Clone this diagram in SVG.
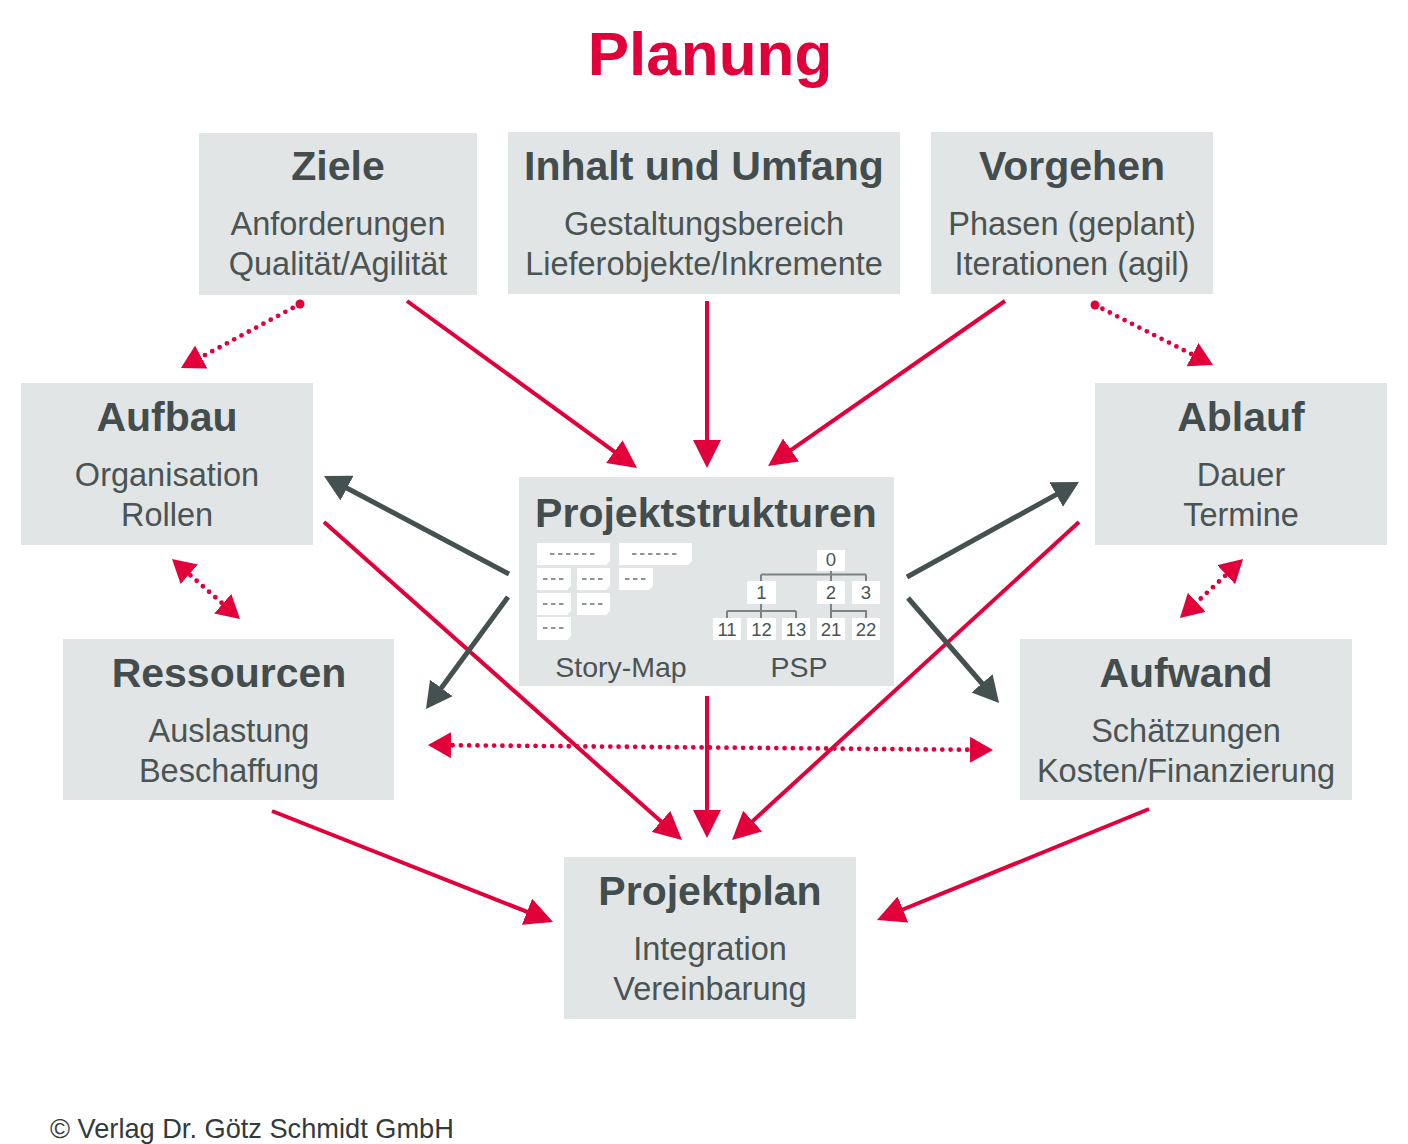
<svg xmlns="http://www.w3.org/2000/svg" width="1408" height="1144" viewBox="0 0 1408 1144">
<style>
.box{fill:#e2e5e5}
.t{font-family:"Liberation Sans",Arial,sans-serif;font-weight:bold;font-size:41px;fill:#434d4d;text-anchor:middle}
.s{font-family:"Liberation Sans",Arial,sans-serif;font-size:32.5px;fill:#4a5454;text-anchor:middle}
.lbl{font-family:"Liberation Sans",Arial,sans-serif;font-size:28.5px;fill:#4a5454;text-anchor:middle}
.num{font-family:"Liberation Sans",Arial,sans-serif;font-size:18.5px;fill:#4a5454;text-anchor:middle}
.card{fill:#ffffff}
.dash{stroke:#8e9393;stroke-width:2;stroke-dasharray:4.5 3.5}
.tree{stroke:#7b8484;stroke-width:2;fill:none}
.red{stroke:#e2003b;stroke-width:4;fill:none}
.dark{stroke:#455050;stroke-width:5;fill:none}
.dot{stroke:#e2003b;stroke-width:4.8;stroke-linecap:round;stroke-dasharray:0 8.3;fill:none}
</style>
<defs>
<marker id="rh" markerUnits="userSpaceOnUse" viewBox="0 0 28 28" refX="20" refY="14" markerWidth="28" markerHeight="28" orient="auto"><path d="M0,0 L28,14 L0,28 z" fill="#e2003b"/></marker>
<marker id="dh" markerUnits="userSpaceOnUse" viewBox="0 0 26 28" refX="18" refY="14" markerWidth="26" markerHeight="28" orient="auto"><path d="M0,0 L26,14 L0,28 z" fill="#455050"/></marker>
<marker id="ph" markerUnits="userSpaceOnUse" viewBox="0 0 23 26" refX="15" refY="13" markerWidth="23" markerHeight="26" orient="auto-start-reverse"><path d="M0,0 L23,13 L0,26 z" fill="#e2003b"/></marker>
</defs>
<rect width="1408" height="1144" fill="#ffffff"/>
<text x="710" y="75" style="font-family:'Liberation Sans',Arial,sans-serif;font-weight:bold;font-size:62px;fill:#e2003b;text-anchor:middle">Planung</text>

<g id="ziele"><rect class="box" x="199" y="133" width="278" height="162"/><text class="t" x="338" y="180">Ziele</text><text class="s" x="338" y="235">Anforderungen</text><text class="s" x="338" y="275">Qualität/Agilität</text></g>
<g id="inhalt"><rect class="box" x="508" y="132" width="392" height="162"/><text class="t" x="704" y="180">Inhalt und Umfang</text><text class="s" x="704" y="235">Gestaltungsbereich</text><text class="s" x="704" y="275">Lieferobjekte/Inkremente</text></g>
<g id="vorgehen"><rect class="box" x="931" y="132" width="282" height="162"/><text class="t" x="1072" y="180">Vorgehen</text><text class="s" x="1072" y="235">Phasen (geplant)</text><text class="s" x="1072" y="275">Iterationen (agil)</text></g>
<g id="aufbau"><rect class="box" x="21" y="383" width="292" height="162"/><text class="t" x="167" y="431">Aufbau</text><text class="s" x="167" y="486">Organisation</text><text class="s" x="167" y="526">Rollen</text></g>
<g id="ablauf"><rect class="box" x="1095" y="383" width="292" height="162"/><text class="t" x="1241" y="431">Ablauf</text><text class="s" x="1241" y="486">Dauer</text><text class="s" x="1241" y="526">Termine</text></g>
<g id="ressourcen"><rect class="box" x="63" y="639" width="331" height="161"/><text class="t" x="229" y="687">Ressourcen</text><text class="s" x="229" y="742">Auslastung</text><text class="s" x="229" y="782">Beschaffung</text></g>
<g id="aufwand"><rect class="box" x="1020" y="639" width="332" height="161"/><text class="t" x="1186" y="687">Aufwand</text><text class="s" x="1186" y="742">Schätzungen</text><text class="s" x="1186" y="782">Kosten/Finanzierung</text></g>
<g id="projektplan"><rect class="box" x="564" y="857" width="292" height="162"/><text class="t" x="710" y="905">Projektplan</text><text class="s" x="710" y="960">Integration</text><text class="s" x="710" y="1000">Vereinbarung</text></g>

<g id="projektstrukturen">
<rect class="box" x="519" y="477" width="375" height="209"/>
<text class="t" x="706" y="527">Projektstrukturen</text>
<g id="storymap">
<path class="card" d="M537,543 H610 V561 L606,565 H537 z"/>
<path class="card" d="M619,543 H692 V561 L688,565 H619 z"/>
<path class="card" d="M537,568 H571 V586 L567,590 H537 z"/>
<path class="card" d="M577,568 H610 V586 L606,590 H577 z"/>
<path class="card" d="M619,568 H653 V586 L649,590 H619 z"/>
<path class="card" d="M537,593 H571 V611 L567,615 H537 z"/>
<path class="card" d="M577,593 H610 V611 L606,615 H577 z"/>
<path class="card" d="M537,617 H571 V636 L567,640 H537 z"/>
<line class="dash" x1="550" y1="554" x2="597" y2="554"/>
<line class="dash" x1="632" y1="554" x2="679" y2="554"/>
<line class="dash" x1="543" y1="579" x2="565" y2="579"/>
<line class="dash" x1="582" y1="579" x2="604" y2="579"/>
<line class="dash" x1="625" y1="579" x2="647" y2="579"/>
<line class="dash" x1="543" y1="604" x2="565" y2="604"/>
<line class="dash" x1="582" y1="604" x2="604" y2="604"/>
<line class="dash" x1="543" y1="628" x2="565" y2="628"/>
</g>
<g id="psp">
<path class="tree" d="M831,571 V581 M761,574.5 H866 M761,574.5 V581 M866,574.5 V581 M761,604 V618 M727,611 H796 M727,611 V618 M796,611 V618 M831,604 V618 M831,611 H866 V618"/>
<rect class="card" x="817" y="550" width="28" height="21"/><text class="num" x="831" y="566">0</text>
<rect class="card" x="747" y="581" width="29" height="23"/><text class="num" x="761.5" y="599">1</text>
<rect class="card" x="817" y="581" width="28" height="23"/><text class="num" x="831" y="599">2</text>
<rect class="card" x="852" y="581" width="28" height="23"/><text class="num" x="866" y="599">3</text>
<rect class="card" x="713" y="618" width="28" height="22"/><text class="num" x="727" y="636">11</text>
<rect class="card" x="747" y="618" width="29" height="22"/><text class="num" x="761.5" y="636">12</text>
<rect class="card" x="782" y="618" width="28" height="22"/><text class="num" x="796" y="636">13</text>
<rect class="card" x="817" y="618" width="28" height="22"/><text class="num" x="831" y="636">21</text>
<rect class="card" x="852" y="618" width="28" height="22"/><text class="num" x="866" y="636">22</text>
</g>
<text class="lbl" x="621" y="677">Story-Map</text>
<text class="lbl" x="799" y="677">PSP</text>
</g>

<g id="connectors">
<line class="red" x1="407" y1="301" x2="630.5" y2="463.3" marker-end="url(#rh)"/>
<line class="red" x1="707" y1="301" x2="707" y2="460" marker-end="url(#rh)"/>
<line class="red" x1="1005" y1="301" x2="774.6" y2="461.4" marker-end="url(#rh)"/>
<line class="red" x1="324" y1="522" x2="676" y2="834.7" marker-end="url(#rh)"/>
<line class="red" x1="707" y1="696" x2="707" y2="830" marker-end="url(#rh)"/>
<line class="red" x1="1079" y1="522" x2="737.9" y2="834.6" marker-end="url(#rh)"/>
<line class="red" x1="272" y1="811" x2="545.6" y2="919.1" marker-end="url(#rh)"/>
<line class="red" x1="1149" y1="809" x2="884.4" y2="917" marker-end="url(#rh)"/>
<line class="dark" x1="509" y1="574" x2="331.1" y2="479.7" marker-end="url(#dh)"/>
<line class="dark" x1="508" y1="597" x2="430.7" y2="702.5" marker-end="url(#dh)"/>
<line class="dark" x1="907" y1="577" x2="1072" y2="485.9" marker-end="url(#dh)"/>
<line class="dark" x1="908" y1="598" x2="993.8" y2="697" marker-end="url(#dh)"/>
<circle cx="300" cy="304" r="4.5" fill="#e2003b"/>
<line class="dot" x1="300" y1="304" x2="188" y2="364.2" marker-end="url(#ph)"/>
<circle cx="1095" cy="305" r="4.5" fill="#e2003b"/>
<line class="dot" x1="1095" y1="305" x2="1205.9" y2="361.4" marker-end="url(#ph)"/>
<line class="dot" x1="178" y1="564.3" x2="234" y2="613.7" marker-start="url(#ph)" marker-end="url(#ph)"/>
<line class="dot" x1="1237.2" y1="564.5" x2="1185.8" y2="612.5" marker-start="url(#ph)" marker-end="url(#ph)"/>
<line class="dot" x1="436" y1="745.1" x2="985" y2="749.9" marker-start="url(#ph)" marker-end="url(#ph)"/>
</g>

<text x="50" y="1138" style="font-family:'Liberation Sans',Arial,sans-serif;font-size:27.2px;fill:#333a3a">© Verlag Dr. Götz Schmidt GmbH</text>
</svg>
